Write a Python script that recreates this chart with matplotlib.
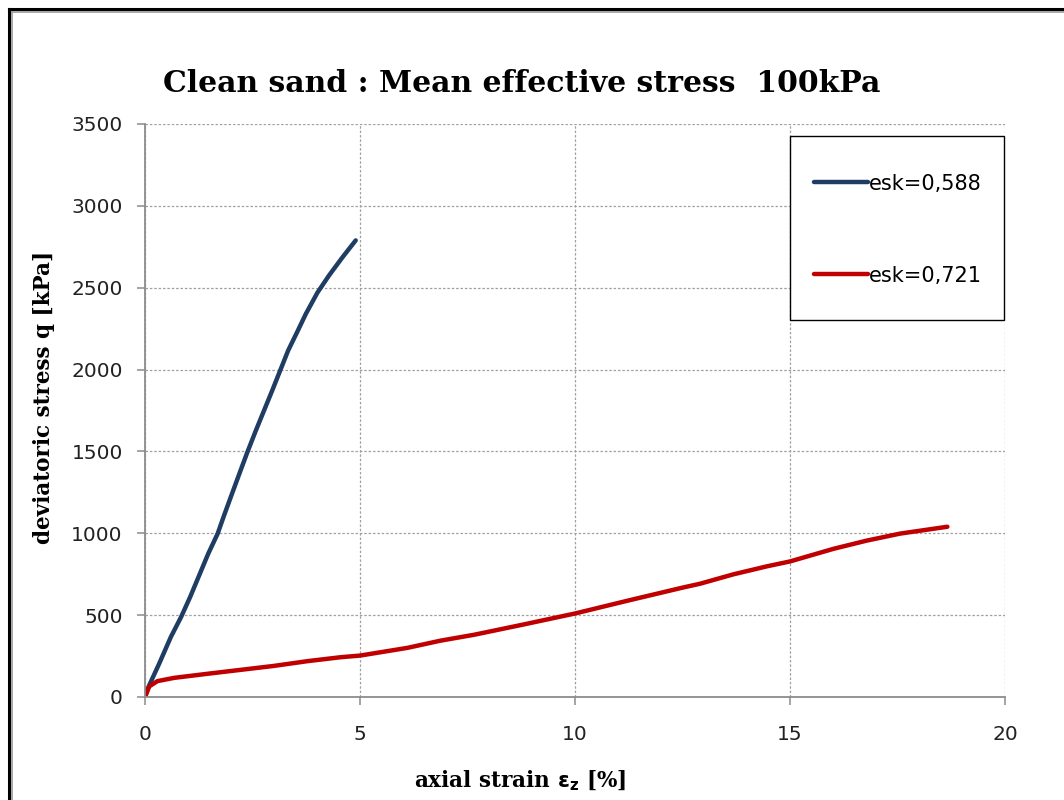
import matplotlib.pyplot as plt
from matplotlib.lines import Line2D
from matplotlib.patches import Rectangle

# axial strain [%] / deviatoric stress [kPa]
strain_588 = [0, 0.08, 0.33, 0.60, 0.84, 1.05, 1.47, 1.69, 1.84, 2.00, 2.21,
              2.38, 2.58, 2.77, 2.96, 3.16, 3.33, 3.54, 3.74, 4.01, 4.28,
              4.59, 4.90]
q_588 = [0, 61, 204, 366, 489, 611, 875, 998, 1110, 1225, 1375,
         1495, 1629, 1751, 1873, 2005, 2117, 2230, 2340, 2470, 2575,
         2685, 2789]

strain_721 = [0, 0.03, 0.10, 0.29, 0.68, 1.46, 2.23, 3.0, 3.78, 4.55, 5.0,
              6.10, 6.87, 7.65, 8.75, 10, 11.25, 12.5, 12.91, 13.68, 14.46,
              15, 16.01, 16.78, 17.56, 18.66]
q_721 = [0, 20, 65, 97, 117, 142, 166, 190, 219, 243, 253,
         300, 344, 380, 440, 510, 590, 668, 692, 749, 798,
         828, 905, 955, 998, 1040]

labels = ["esk=0,588", "esk=0,721"]
colors = ["#1f3d63", "#c00000"]

x_ticks = [0, 5, 10, 15, 20]
y_ticks = [0, 500, 1000, 1500, 2000, 2500, 3000, 3500]

fig = plt.figure(figsize=(10.64, 8), dpi=100)
ax = fig.add_axes([145 / 1064, 1 - 697 / 800, 860 / 1064, 573 / 800])

l1, = ax.plot(strain_588, q_588, color=colors[0], lw=3.2,
              solid_capstyle="round", solid_joinstyle="round")
l2, = ax.plot(strain_721, q_721, color=colors[1], lw=3.2,
              solid_capstyle="round", solid_joinstyle="round")

ax.set_xlim(0, 20)
ax.set_ylim(0, 3500)
ax.set_xticks(x_ticks)
ax.set_yticks(y_ticks)
ax.grid(True, color="#a0a0a0", linestyle=(0, (2, 1.5)), linewidth=0.9)
ax.set_axisbelow(True)

for s in ["top", "right"]:
    ax.spines[s].set_visible(False)
for s in ["left", "bottom"]:
    ax.spines[s].set_color("#8c8c8c")
    ax.spines[s].set_linewidth(1.3)

ax.tick_params(axis="both", direction="out", length=6, width=1.1,
               color="#8c8c8c", labelsize=14.5, labelcolor="#222222")
ax.tick_params(axis="x", pad=14)
ax.tick_params(axis="y", pad=10)

fig.text(522 / 1064, 1 - 83 / 800, "Clean sand : Mean effective stress  100kPa",
         family="DejaVu Serif", fontweight="bold", fontsize=21.5,
         ha="center", va="center")
fig.text(520 / 1064, 1 - 781 / 800, r"axial strain $\mathbf{\varepsilon_z}$ [%]",
         family="DejaVu Serif", fontweight="bold", fontsize=15.5,
         ha="center", va="center")
fig.text(44 / 1064, 1 - 397 / 800, "deviatoric stress q [kPa]",
         family="DejaVu Serif", fontweight="bold", fontsize=15.5,
         ha="center", va="center", rotation=90)

# legend box
fig.patches.append(Rectangle((790 / 1064, 1 - 320 / 800), 214 / 1064, 184 / 800,
                             transform=fig.transFigure, facecolor="white",
                             edgecolor="black", linewidth=1.0, zorder=5))
leg = fig.legend([l1, l2], labels, loc="upper left",
                 bbox_to_anchor=(795 / 1064, 1 - 155 / 800), frameon=False,
                 fontsize=15, handlelength=2.6, handletextpad=0.05,
                 labelspacing=3.45)
leg.set_zorder(6)

# outer chart frame
fig.add_artist(Line2D([9 / 1064, 9 / 1064], [0, 1 - 9 / 800], color="black", lw=2.2,
                      transform=fig.transFigure))
fig.add_artist(Line2D([9 / 1064, 1], [1 - 9 / 800, 1 - 9 / 800], color="black", lw=2.2,
                      transform=fig.transFigure))
fig.add_artist(Line2D([12 / 1064, 12 / 1064], [0, 1 - 12 / 800], color="#999999", lw=1.2,
                      transform=fig.transFigure))
fig.add_artist(Line2D([12 / 1064, 1], [1 - 12 / 800, 1 - 12 / 800], color="#999999", lw=1.2,
                      transform=fig.transFigure))

fig.savefig("out.png", dpi=100)
